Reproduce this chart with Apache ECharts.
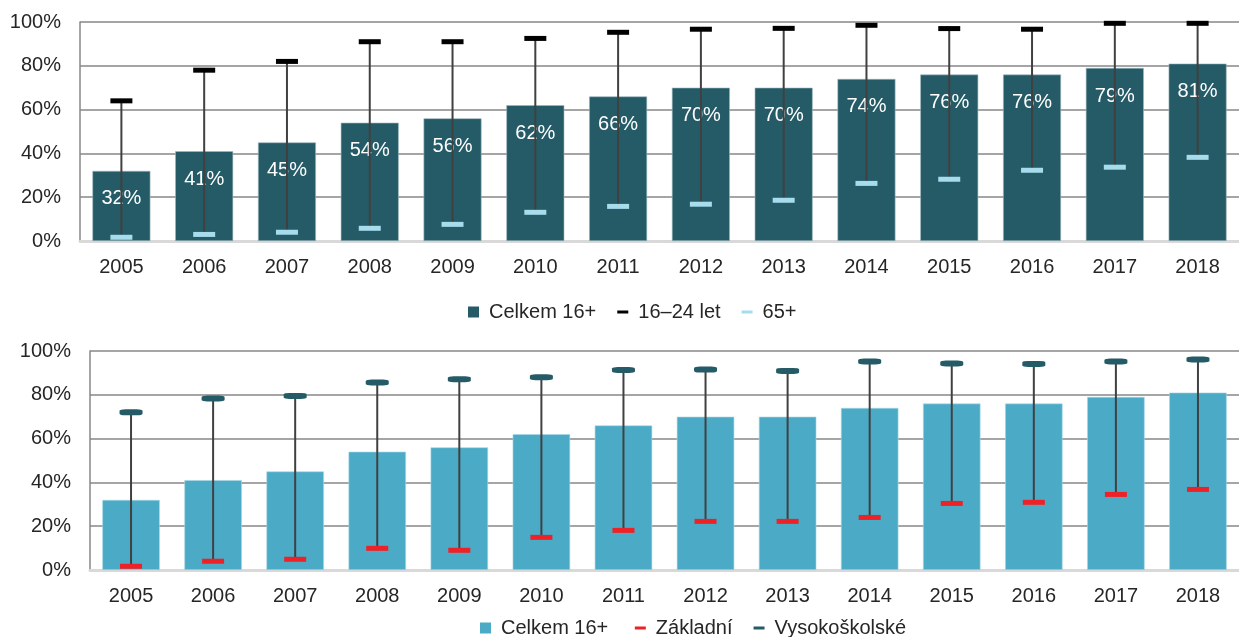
<!DOCTYPE html>
<html><head><meta charset="utf-8">
<script src="https://cdn.jsdelivr.net/npm/echarts@6/dist/echarts.min.js"></script>
<style>html,body{margin:0;padding:0;background:#fff}#c{width:1239px;height:637px}</style>
</head><body><div id="c"></div>
<script>
const years = ['2005','2006','2007','2008','2009','2010','2011','2012','2013','2014','2015','2016','2017','2018'];
const celkem = [32,41,45,54,56,62,66,70,70,74,76,76,79,81];
const age1624 = [64,78,82,91,91,92.5,95.3,96.7,97.1,98.5,97,96.7,99.4,99.4];
const age65 = [1.7,3,4,5.8,7.6,13.1,15.8,16.8,18.6,26.3,28.2,32.3,33.7,38.2];
const zakladni = [1.7,4,4.9,9.9,9,14.9,18.1,22.2,22.2,24,30.4,30.9,34.5,36.8];
const vysokoskolske = [72,78.3,79.5,85.6,87.1,88,91.3,91.5,90.9,95.2,94.3,94.1,95.2,96.1];
const yTicks = [0,20,40,60,80,100];

const FONT = 'Liberation Sans, Arial, sans-serif';
const TXT = '#262626';
const sqIcon = 'path://M0,0h11v11h-11zM16,0M16,11';
const dashIcon = 'path://M0,0M0,4h11v3h-11zM16,11';

function errLine(lo, hi, gi) {
  return {
    type: 'custom', xAxisIndex: gi, yAxisIndex: gi, z: 3,
    data: years.map((y,i)=>[i, lo[i], hi[i]]),
    encode: {x: 0, y: [1,2]},
    renderItem: function(params, api){
      const a = api.coord([api.value(0), api.value(1)]);
      const b = api.coord([api.value(0), api.value(2)]);
      return {type:'line', shape:{x1:a[0],y1:a[1],x2:b[0],y2:b[1]}, style:{stroke:'#404040', lineWidth:2}};
    },
    silent: true
  };
}
function xAx(gi){
  return {type:'category', gridIndex: gi, data: years,
    axisLine:{show:true, lineStyle:{color:'#d9d9d9', width:3}},
    axisTick:{show:false},
    axisLabel:{fontSize:20, color:TXT, fontFamily:FONT, margin:16}};
}
function yAx(gi){
  return {type:'value', gridIndex: gi, min:0, max:100, interval:20,
    axisLine:{show:true, lineStyle:{color:'#878787', width:1.5}},
    axisTick:{show:false},
    splitLine:{show:true, lineStyle:{color:'#878787', width:1.5}},
    axisLabel:{fontSize:20, color:TXT, fontFamily:FONT, margin:19,
      formatter: v => yTicks.includes(v) ? v + '%' : ''}};
}
function dash(name, gi, data, color, symbol, size){
  return {name:name, type:'scatter', xAxisIndex:gi, yAxisIndex:gi, data:data, symbol:symbol, symbolSize:size,
    itemStyle:{color:color, opacity:1}, emphasis:{disabled:true}, z:5};
}
const chart = echarts.init(document.getElementById('c'), null, {renderer:'canvas'});
chart.setOption({
  animation:false,
  grid:[{left:80, right:-10, top:22, height:219},{left:90, right:-5, top:351, height:219}],
  xAxis:[xAx(0), xAx(1)],
  yAxis:[yAx(0), yAx(1)],
  legend:[
    {left:463, top:297, itemWidth:16, itemHeight:11, itemGap:21, itemStyle:{borderWidth:0},
     textStyle:{fontSize:20, color:TXT, fontFamily:FONT},
     data:[{name:'Celkem 16+', icon:sqIcon},{name:'16–24 let', icon:dashIcon},{name:'65+', icon:dashIcon}]},
    {left:475, top:613, itemWidth:16, itemHeight:11, itemGap:21, itemStyle:{borderWidth:0},
     textStyle:{fontSize:20, color:TXT, fontFamily:FONT},
     data:[{name:'Celkem 16+ ', icon:sqIcon},{name:'Základní', icon:dashIcon},{name:'Vysokoškolské', icon:dashIcon}]}
  ],
  series:[
    {name:'Celkem 16+', type:'bar', xAxisIndex:0, yAxisIndex:0, data:celkem, barWidth:'70%',
     itemStyle:{color:'#245b67', borderColor:'#9fb9bf', borderWidth:0.6}, z:2,
     label:{show:true, position:'insideTop', distance:18, color:'#fff', fontSize:20, fontFamily:FONT, formatter:'{c}%'}},
    errLine(age65, age1624, 0),
    dash('16–24 let', 0, age1624, '#000000', 'rect', [22,5]),
    dash('65+', 0, age65, '#a6dcec', 'rect', [22,5]),
    {name:'Celkem 16+ ', type:'bar', xAxisIndex:1, yAxisIndex:1, data:celkem, barWidth:'70%',
     itemStyle:{color:'#4babc6', borderColor:'#a8d8e6', borderWidth:0.6}, z:2},
    errLine(zakladni, vysokoskolske, 1),
    dash('Základní', 1, zakladni, '#ee2126', 'rect', [22,5]),
    dash('Vysokoškolské', 1, vysokoskolske, '#245b67', 'roundRect', [23,6])
  ]
});
</script></body></html>
